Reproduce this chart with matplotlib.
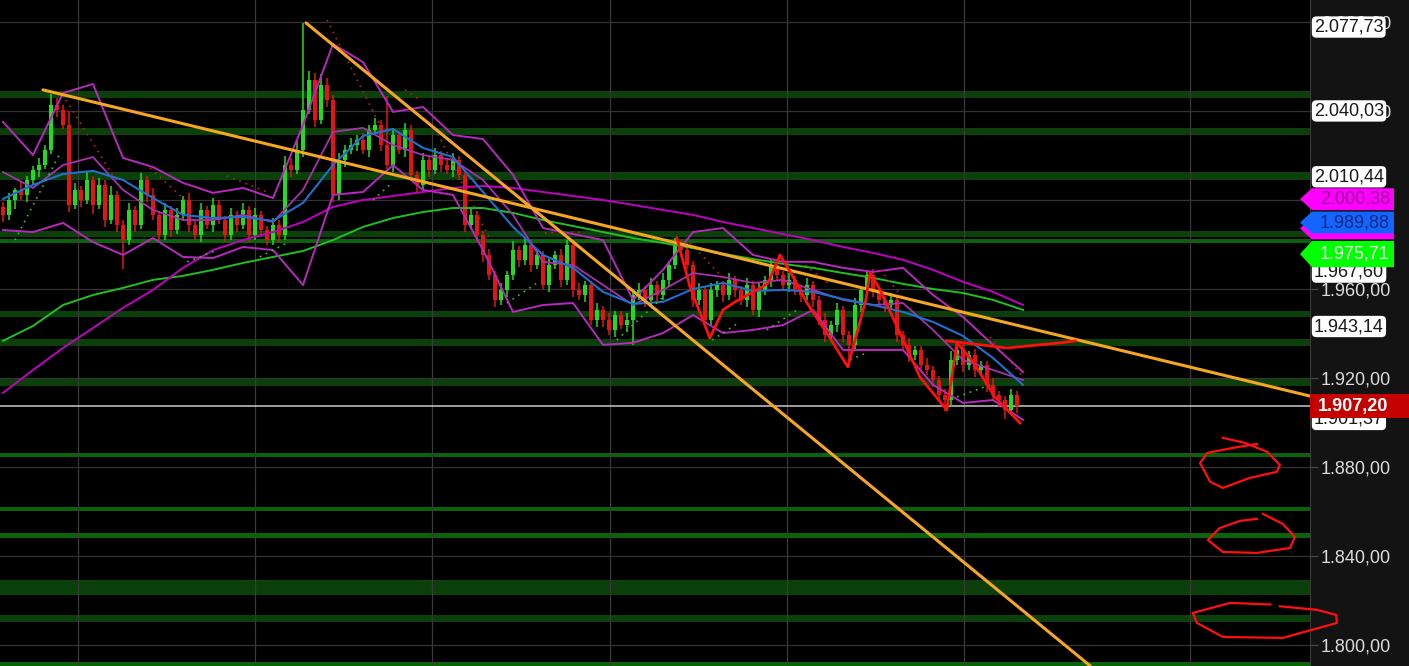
import numpy as np
import matplotlib.pyplot as plt
from matplotlib.patches import Polygon, Rectangle
from matplotlib.transforms import blended_transform_factory

plt.rcParams['font.family'] = ['Liberation Sans', 'DejaVu Sans']

# velas: cierre por barra (la apertura es el cierre anterior)
first_open = 1997.0
close = [
    1993.2, 2000.0, 2004.5, 2002.2, 2009.0, 2013.5, 2015.8, 2022.5, 2042.8, 2040.5,
    2033.8, 1997.8, 2004.5, 2000.0, 2009.0, 1997.8, 2006.8, 1991.0, 2002.2, 1988.8,
    1982.0, 1995.5, 1988.8, 2009.0, 2002.2, 1993.2, 1984.2, 1995.5, 1986.5, 1993.2,
    2000.0, 1988.8, 1984.2, 1995.5, 1988.8, 1997.8, 1991.0, 1984.2, 1993.2, 1988.8,
    1995.5, 1984.2, 1993.2, 1986.5, 1982.0, 1988.8, 1984.2, 2015.8, 2013.5, 2022.5,
    2040.5, 2054.0, 2036.0, 2051.8, 2045.0, 2002.2, 2018.0, 2022.5, 2024.8, 2027.0,
    2022.5, 2031.5, 2033.8, 2024.8, 2015.8, 2029.2, 2022.5, 2031.5, 2011.2, 2006.8,
    2018.0, 2013.5, 2020.2, 2015.8, 2013.5, 2018.0, 2011.2, 1988.8, 1993.2, 1984.2,
    1975.2, 1966.2, 1955.0, 1959.5, 1966.2, 1977.5, 1973.0, 1979.8, 1970.8, 1975.2,
    1961.8, 1970.8, 1975.2, 1964.0, 1979.8, 1959.5, 1957.2, 1961.8, 1946.0, 1950.5,
    1946.0, 1941.5, 1948.2, 1943.8, 1946.0, 1957.2, 1959.5, 1955.0, 1961.8, 1957.2,
    1964.0, 1970.8, 1979.8, 1977.5, 1970.8, 1955.0, 1959.5, 1946.0, 1959.5, 1961.8,
    1957.2, 1964.0, 1959.5, 1955.0, 1961.8, 1950.5, 1959.5, 1964.0, 1970.8, 1966.2,
    1961.8, 1964.0, 1959.5, 1957.2, 1961.8, 1955.0, 1946.0, 1939.2, 1943.8, 1950.5,
    1939.2, 1934.8, 1952.8, 1959.5, 1966.2, 1959.5, 1955.0, 1952.8, 1955.0, 1939.2,
    1934.8, 1930.2, 1932.5, 1925.8, 1923.5, 1919.0, 1912.2, 1910.0, 1928.0, 1932.5,
    1925.8, 1930.2, 1923.5, 1925.8, 1916.8, 1912.2, 1910.0, 1905.5, 1912.2, 1907.2,
]
# mechas (puntos por encima / por debajo del cuerpo)
up_wick = [
    2, 3, 1, 4, 2, 2, 3, 2, 5, 3,
    2, 6, 3, 2, 4, 2, 3, 2, 4, 2,
    2, 3, 2, 3, 2, 3, 2, 3, 2, 3,
    2, 3, 2, 3, 2, 3, 2, 2, 3, 2,
    3, 2, 3, 2, 2, 3, 2, 4, 3, 4,
    39, 4, 3, 5, 3, 2, 3, 2, 3, 2,
    3, 2, 3, 2, 22, 3, 2, 3, 2, 2,
    3, 2, 3, 2, 2, 3, 2, 2, 3, 2,
    2, 3, 2, 3, 2, 4, 2, 3, 2, 3,
    2, 3, 2, 3, 2, 2, 3, 2, 2, 3,
    2, 3, 2, 2, 3, 2, 3, 2, 3, 2,
    3, 2, 3, 2, 3, 2, 3, 2, 3, 2,
    2, 3, 2, 2, 3, 2, 3, 2, 3, 2,
    2, 3, 2, 2, 3, 2, 2, 3, 2, 3,
    2, 2, 3, 2, 2, 3, 2, 2, 3, 2,
    2, 3, 2, 2, 3, 2, 2, 3, 4, 2,
    3, 2, 3, 2, 2, 3, 2, 2, 3, 2,
]
dn_wick = [
    3, 2, 4, 2, 3, 2, 3, 2, 2, 3,
    2, 3, 2, 3, 2, 4, 2, 3, 2, 3,
    13, 2, 3, 2, 3, 2, 3, 2, 3, 2,
    2, 3, 2, 3, 2, 3, 2, 3, 2, 3,
    2, 3, 2, 3, 2, 2, 3, 2, 3, 2,
    3, 2, 3, 2, 3, 3, 2, 3, 2, 3,
    2, 3, 2, 3, 2, 3, 2, 3, 2, 3,
    2, 3, 2, 3, 2, 3, 2, 3, 2, 3,
    3, 2, 3, 2, 3, 2, 3, 2, 3, 2,
    2, 3, 2, 3, 2, 3, 2, 3, 2, 3,
    3, 2, 3, 2, 3, 11, 2, 3, 2, 3,
    2, 3, 2, 3, 2, 3, 2, 3, 2, 3,
    3, 2, 3, 2, 3, 2, 3, 2, 3, 2,
    2, 3, 2, 3, 2, 3, 2, 3, 2, 3,
    3, 10, 2, 3, 2, 3, 2, 3, 2, 3,
    2, 3, 2, 3, 2, 3, 2, 5, 3, 2,
    3, 2, 3, 2, 3, 2, 3, 4, 2, 3,
]

# indicadores leidos cada 5 barras
ind_bars = list(range(0, 171, 5))
ma_blue = [2000.5, 2006.8, 2011.7, 2013.1, 2009.0, 2000.9, 1993.3, 1991.9, 1992.4, 1990.6,
           1998.7, 2015.7, 2028.8, 2031.9, 2023.4, 2019.3, 2003.6, 1987.9, 1975.3, 1969.5,
           1958.7, 1953.3, 1954.2, 1960.0, 1962.7, 1959.1, 1959.6, 1958.7, 1955.5, 1952.8,
           1949.7, 1945.2, 1938.9, 1929.0, 1916.9]
ma_green = [1936.7, 1943.4, 1952.8, 1957.3, 1960.5, 1964.1, 1965.9, 1968.6, 1971.7, 1974.4,
            1977.1, 1982.0, 1987.9, 1991.9, 1994.6, 1996.4, 1996.4, 1994.2, 1991.0, 1988.3,
            1985.6, 1982.9, 1980.7, 1978.4, 1975.8, 1973.5, 1971.3, 1969.5, 1967.2, 1965.0,
            1962.3, 1960.0, 1958.2, 1955.1, 1950.6]
ma_magenta = [1913.3, 1923.6, 1933.5, 1942.5, 1951.5, 1959.6, 1969.5, 1977.5, 1982.0, 1985.6,
              1990.1, 1996.9, 2000.0, 2001.8, 2003.6, 2005.4, 2006.3, 2005.4, 2003.6, 2001.8,
              2000.0, 1997.8, 1995.5, 1993.3, 1990.1, 1987.4, 1984.7, 1982.0, 1978.9, 1976.2,
              1973.1, 1968.6, 1963.2, 1958.7, 1952.8]
bb_upper = [2035.1, 2020.2, 2048.1, 2052.1, 2018.9, 2014.8, 2007.7, 2003.2, 2005.4, 2000.9,
            2033.7, 2070.1, 2062.0, 2039.6, 2041.8, 2029.2, 2027.4, 2011.3, 1987.4, 1984.7,
            1982.0, 1955.1, 1968.6, 1985.6, 1987.4, 1975.3, 1972.2, 1972.2, 1969.5, 1967.7,
            1969.5, 1957.3, 1947.4, 1934.9, 1922.7]
bb_inner = [2012.6, 2005.4, 2015.7, 2019.3, 2004.5, 1995.5, 1991.0, 1991.0, 1993.3, 1990.1,
            2004.5, 2030.6, 2032.4, 2024.7, 2020.2, 2018.0, 2009.0, 1993.3, 1972.2, 1970.8,
            1961.8, 1952.8, 1959.6, 1967.2, 1965.4, 1962.7, 1964.1, 1959.6, 1955.1, 1952.8,
            1953.7, 1941.6, 1928.1, 1923.6, 1919.1]
bb_lower = [1986.5, 1985.6, 1989.7, 1981.1, 1975.3, 1982.9, 1974.4, 1973.9, 1978.9, 1977.5,
            1961.8, 2002.3, 2003.6, 2015.7, 2004.5, 2002.3, 1977.5, 1949.7, 1952.8, 1953.7,
            1934.9, 1935.8, 1940.2, 1948.3, 1940.2, 1941.6, 1943.8, 1950.6, 1932.6, 1932.6,
            1932.6, 1916.9, 1908.8, 1910.1, 1901.2]

# SAR parabolico (tramos: barra inicial, barra final, precio inicial, precio final)
sar_red = [(10.5, 19.5, 2045.0, 2005.9), (24.5, 30.3, 2014.4, 2000.0), (37.3, 44.0, 2010.8, 2003.6),
           (54.0, 62.8, 2080.9, 2033.7), (67.0, 69.5, 2049.5, 2045.0), (72.0, 81.2, 2032.4, 1982.0),
           (90.3, 96.2, 1985.2, 1985.6), (114.5, 120.3, 1980.7, 1964.1), (133.7, 137.8, 1970.8, 1961.8),
           (146.2, 150.3, 1968.6, 1955.1), (164.5, 170.0, 1938.4, 1920.5)]
sar_green = [(2.0, 9.5, 1982.0, 2021.1), (30.7, 35.7, 1972.2, 1977.5), (42.8, 47.3, 1974.4, 1980.7),
             (61.7, 64.8, 2000.0, 2007.7), (84.0, 89.0, 1953.7, 1962.7), (102.3, 110.0, 1937.1, 1956.4),
             (118.2, 122.8, 1937.1, 1945.2), (127.3, 132.8, 1941.6, 1951.5), (141.2, 144.2, 1928.1, 1931.7),
             (159.0, 164.5, 1911.5, 1916.9)]

# lineas de tendencia (naranja)
trend_lines = [((6.67, 217.8), (2049.5, 1911.9)), ((50.5, 181.2), (2079.6, 1790.6))]

# zigzag dibujado a mano (rojo)
zig_bars = [112.3, 114.5, 117.8, 120.0, 122.0, 125.7, 127.5, 129.5, 131.7, 134.0, 137.3,
            140.8, 143.8, 144.5, 146.2, 149.5, 152.8, 157.3, 159.0, 161.7, 165.3, 169.5]
zig_price = [1983.0, 1960.9, 1938.0, 1950.6, 1954.2, 1959.6, 1962.7, 1975.3, 1965.4, 1953.7, 1940.2,
             1925.0, 1955.1, 1967.2, 1959.6, 1940.2, 1920.5, 1905.6, 1935.8, 1927.2, 1911.5, 1899.8]
flat_bars = [157.3, 161.7, 167.3, 172.8, 176.2, 178.7]
flat_price = [1936.7, 1935.3, 1933.5, 1934.9, 1935.8, 1936.7]

# circulos a mano a la derecha
circ1_bars = [203.3, 207.0, 210.7, 212.8, 212.3, 207.8, 203.3, 201.2, 199.5, 200.7, 205.0, 209.0]
circ1_price = [1893.1, 1890.8, 1886.8, 1880.9, 1877.8, 1875.1, 1870.6, 1873.3, 1881.8, 1886.3, 1888.6, 1890.4]
circ2_bars = [209.0, 206.2, 202.8, 200.8, 203.3, 209.0, 214.5, 215.3, 213.3, 210.0]
circ2_price = [1856.7, 1855.8, 1852.6, 1847.2, 1841.8, 1841.4, 1843.6, 1848.6, 1854.4, 1858.9]
circ3_bars = [211.2, 204.5, 198.3, 199.0, 203.3, 213.3, 222.3, 222.2, 219.0, 212.8]
circ3_price = [1818.2, 1818.9, 1814.4, 1809.9, 1803.6, 1803.2, 1809.9, 1813.5, 1815.8, 1817.4]

# zonas soporte / resistencia (precio bajo, precio alto)
zones = [(2045.8, 2049.0), (2029.2, 2032.4), (2009.0, 2012.6), (1983.4, 1986.1), (1980.7, 1982.5),
         (1947.4, 1950.1), (1934.4, 1937.5), (1916.4, 1920.0), (1884.5, 1886.3), (1860.2, 1862.0),
         (1848.1, 1850.3), (1822.5, 1829.2), (1810.3, 1813.5), (1790.6, 1792.4)]
strong_zones = [4, 8, 9, 10, 13]

vgrid_bars = [12.5, 42.0, 71.5, 101.2, 130.7, 160.2, 197.8]
yticks = [1800, 1840, 1880, 1920, 1960, 2000, 2040, 2080]
last_price = 1907.20

white_tags = [(2077.73, '2.077,73'), (2040.03, '2.040,03'), (2010.44, '2.010,44'),
              (1967.60, '1.967,60'), (1943.14, '1.943,14'), (1901.37, '1.901,37')]
# etiquetas de color en orden de dibujo (la ultima queda encima)
color_tags = [(1987.20, '', '#ff00ff', '#9a009a', 4.9),
              (2000.38, '2.000,38', '#ff00ff', '#9a009a', 4.9),
              (1989.88, '1.989,88', '#1464ff', '#0c2a80', 4.9),
              (1975.71, '1.975,71', '#00ff00', '#f0fff0', 5.9)]


def fmt(v):
    return f"{v:,.2f}".replace(',', '#').replace('.', ',').replace('#', '.')


fig = plt.figure(figsize=(14.09, 6.66), dpi=100, facecolor='#131313')
AXW = 1310.0
ax = fig.add_axes([0, 0, AXW / 1409, 1])
ax.set_facecolor('black')
ax.set_xlim(-0.5, 217.83)
ax.set_ylim(1790.56, 2089.89)

for i, (lo, hi) in enumerate(zones):
    c = '#0b620b' if i in strong_zones else '#0b400b'
    ax.axhspan(lo, hi, color=c, lw=0, zorder=0)
for b in vgrid_bars:
    ax.axvline(b, color='#3a3a3a', lw=0.9, zorder=0.5)
for t in yticks:
    ax.axhline(t, color='#333333', lw=0.9, zorder=0.5)
ax.axhline(last_price, color='#c8c8c8', lw=1.1, zorder=1)

# velas
x = np.arange(len(close))
c = np.array(close)
o = np.array([first_open] + close[:-1])
hi = np.maximum(o, c) + np.array(up_wick)
lo = np.minimum(o, c) - np.array(dn_wick)
cols = np.where(c >= o, '#22dc22', '#e51414')
ax.vlines(x, lo, hi, colors=cols, lw=1.1, zorder=2)
ax.bar(x, c - o, bottom=o, width=0.58, color=cols, lw=0, zorder=2)

# indicadores
ax.plot(ind_bars, ma_green, color='#20c020', lw=1.4, zorder=3)
ax.plot(ind_bars, ma_magenta, color='#c000c0', lw=1.4, zorder=3)
ax.plot(ind_bars, bb_upper, color='#b828c0', lw=1.4, zorder=3)
ax.plot(ind_bars, bb_inner, color='#a830b0', lw=1.3, zorder=3)
ax.plot(ind_bars, bb_lower, color='#b828c0', lw=1.4, zorder=3)
ax.plot(ind_bars, ma_blue, color='#1f6fd0', lw=1.5, zorder=3)
for b0, b1, p0, p1 in sar_red:
    ax.plot([b0, b1], [p0, p1], color='#c02010', lw=1.2, ls=(0, (1, 3)), zorder=3)
for b0, b1, p0, p1 in sar_green:
    ax.plot([b0, b1], [p0, p1], color='#30c030', lw=1.2, ls=(0, (1, 3)), zorder=3)

for bx, py in trend_lines:
    ax.plot(bx, py, color='#f5a623', lw=2.2, zorder=4, solid_capstyle='round')

ax.plot(zig_bars, zig_price, color='#ff1010', lw=2.0, zorder=5)
ax.plot(flat_bars, flat_price, color='#ff1010', lw=2.0, zorder=5)
for bx, py in [(circ1_bars, circ1_price), (circ2_bars, circ2_price), (circ3_bars, circ3_price)]:
    ax.plot(bx, py, color='#ff1010', lw=1.6, zorder=8, clip_on=False, solid_joinstyle='round')

# eje derecho
for s in ['left', 'top', 'bottom']:
    ax.spines[s].set_visible(False)
ax.spines['right'].set_color('#3a3a3a')
ax.set_xticks([])
ax.yaxis.tick_right()
ax.set_yticks(yticks)
ax.set_yticklabels([fmt(t) for t in yticks])
ax.tick_params(axis='y', length=6, pad=2, color='#4a4a4a', labelcolor='#dcdcdc', labelsize=13)

tr = blended_transform_factory(ax.transAxes, ax.transData)
for v, s in white_tags:
    ax.text(1314 / AXW, v, s, transform=tr, ha='left', va='center', fontsize=13, color='#1a1a1a',
            bbox=dict(boxstyle='round,pad=0.12,rounding_size=0.25', fc='white', ec='none'),
            clip_on=False, zorder=6)
for k, (v, s, fc, tc, h) in enumerate(color_tags):
    z = 7 + 0.2 * k
    pts = [(1300 / AXW, v), (1312 / AXW, v + h), (1394 / AXW, v + h), (1394 / AXW, v - h), (1312 / AXW, v - h)]
    ax.add_patch(Polygon(pts, closed=True, transform=tr, fc=fc, ec='none', clip_on=False, zorder=z))
    if s:
        ax.text(1320 / AXW, v, s, transform=tr, ha='left', va='center', fontsize=13, color=tc,
                clip_on=False, zorder=z + 0.1)

ax.add_patch(Rectangle((1.0, last_price - 5.4), 100 / AXW, 10.8, transform=tr, fc='#c40000', ec='none',
                       clip_on=False, zorder=9))
ax.text(1318 / AXW, last_price, fmt(last_price), transform=tr, ha='left', va='center', fontsize=13,
        fontweight='bold', color='white', clip_on=False, zorder=9.5)

plt.savefig('out.png', dpi=100, facecolor=fig.get_facecolor())
